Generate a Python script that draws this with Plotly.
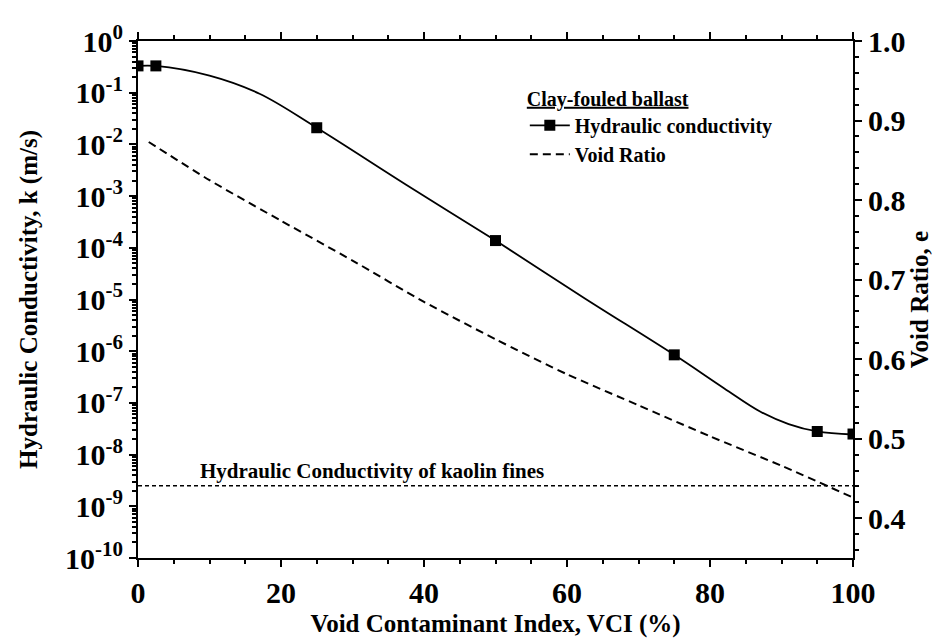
import plotly.graph_objects as go

# Hydraulic conductivity - measured points (VCI %, k m/s)
vci_meas = [0, 2.5, 25, 50, 75, 95, 100]
k_meas = [0.33, 0.33, 0.021, 1.38e-4, 8.5e-7, 2.8e-8, 2.5e-8]

# Hydraulic conductivity - smooth fitted curve
vci_curve = [0, 2.5, 10, 17, 25, 37.5, 50, 62.5, 75, 82, 87, 91, 95, 100]
k_curve = [0.33, 0.33, 0.214, 0.0955, 0.021, 1.66e-3, 1.38e-4, 1.05e-5, 8.5e-7,
           1.9e-7, 6.8e-8, 3.9e-8, 2.8e-8, 2.45e-8]

# Void ratio (right axis)
vci_e = [1.5, 10, 20, 30, 40, 50, 60, 70, 80, 90, 100]
void_ratio = [0.873, 0.825, 0.774, 0.724, 0.672, 0.625, 0.581, 0.542, 0.503, 0.466, 0.426]

# Kaolin fines conductivity
k_kaolin = 2.5e-9
vci_kaolin = [0, 100]

# Tick labels
log_exps = list(range(0, -11, -1))
left_tickvals = [10 ** n for n in log_exps]
left_ticktext = ["10<sup>%d</sup>" % n for n in log_exps]
x_tickvals = [0, 20, 40, 60, 80, 100]
right_tickvals = [0.4, 0.5, 0.6, 0.7, 0.8, 0.9, 1.0]

FONT = "Liberation Serif, Times New Roman, serif"
TICKFONT = dict(family=FONT, size=30, color="black", weight="bold")
TITLEFONT = dict(family=FONT, size=25, color="black", weight="bold")

fig = go.Figure()

fig.add_trace(go.Scatter(
    x=vci_curve, y=k_curve, mode="lines",
    line=dict(color="black", width=1.8, shape="spline", smoothing=1.0),
    showlegend=False, hoverinfo="skip"))
fig.add_trace(go.Scatter(
    x=vci_meas, y=k_meas, mode="markers", marker=dict(symbol="square", size=11, color="black"),
    showlegend=False))
fig.add_trace(go.Scatter(
    x=[None], y=[None], mode="lines+markers", name="Hydraulic conductivity",
    line=dict(color="black", width=1.8), marker=dict(symbol="square", size=11, color="black")))
fig.add_trace(go.Scatter(
    x=vci_e, y=void_ratio, mode="lines", name="Void Ratio", yaxis="y2",
    line=dict(color="black", width=2, dash="8px,5px", shape="spline", smoothing=0.6)))
fig.add_trace(go.Scatter(
    x=vci_kaolin, y=[k_kaolin, k_kaolin], mode="lines", showlegend=False,
    line=dict(color="black", width=1.5, dash="4px,3px")))

fig.add_annotation(
    x=8.4, y=-8.602, xref="x", yref="y", text="Hydraulic Conductivity of kaolin fines",
    showarrow=False, xanchor="left", yanchor="bottom", yshift=1,
    font=dict(family=FONT, size=21, color="black", weight="bold"))

fig.update_layout(
    width=941, height=639,
    margin=dict(l=130, r=96, t=25, b=89),
    paper_bgcolor="white", plot_bgcolor="white",
    font=dict(family=FONT, color="black", weight="bold"),
    xaxis=dict(range=[0, 100], tickvals=x_tickvals,
               ticks="outside", ticklen=7, tickwidth=2, tickcolor="black",
               showline=True, linecolor="black", linewidth=2, mirror="ticks",
               showgrid=False, zeroline=False, tickfont=TICKFONT,
               minor=dict(dtick=5, ticklen=4, ticks="outside", tickcolor="black", tickwidth=2, showgrid=False),
               title=dict(text="Void Contaminant Index, VCI (%)", font=TITLEFONT, standoff=6)),
    yaxis=dict(type="log", range=[-10, 0], tickvals=left_tickvals, ticktext=left_ticktext,
               ticks="outside", ticklen=7, tickwidth=2, tickcolor="black",
               showline=True, linecolor="black", linewidth=2,
               showgrid=False, zeroline=False, tickfont=TICKFONT,
               minor=dict(dtick="D1", ticklen=4, ticks="outside", tickcolor="black", tickwidth=1.5, showgrid=False),
               title=dict(text="Hydraulic Conductivity, k (m/s)", font=TITLEFONT, standoff=20)),
    yaxis2=dict(overlaying="y", side="right", range=[0.35, 1.0], tickvals=right_tickvals,
                tickformat=".1f", ticks="outside", ticklen=7, tickwidth=2, tickcolor="black",
                showline=True, linecolor="black", linewidth=2,
                showgrid=False, zeroline=False, tickfont=TICKFONT,
                minor=dict(dtick=0.02, tick0=0, ticklen=4, ticks="outside", tickcolor="black", tickwidth=2, showgrid=False),
                title=dict(text="Void Ratio, e", font=TITLEFONT, standoff=5)),
    legend=dict(x=0.541, y=0.925, xanchor="left", yanchor="top", bgcolor="rgba(0,0,0,0)",
                font=dict(family=FONT, size=20, color="black", weight="bold"),
                title=dict(text="<span style='text-decoration:underline'>Clay-fouled ballast</span>",
                           font=dict(family=FONT, size=20, color="black", weight="bold")),
                tracegroupgap=0, itemwidth=40),
)

fig.write_html("out.html")
